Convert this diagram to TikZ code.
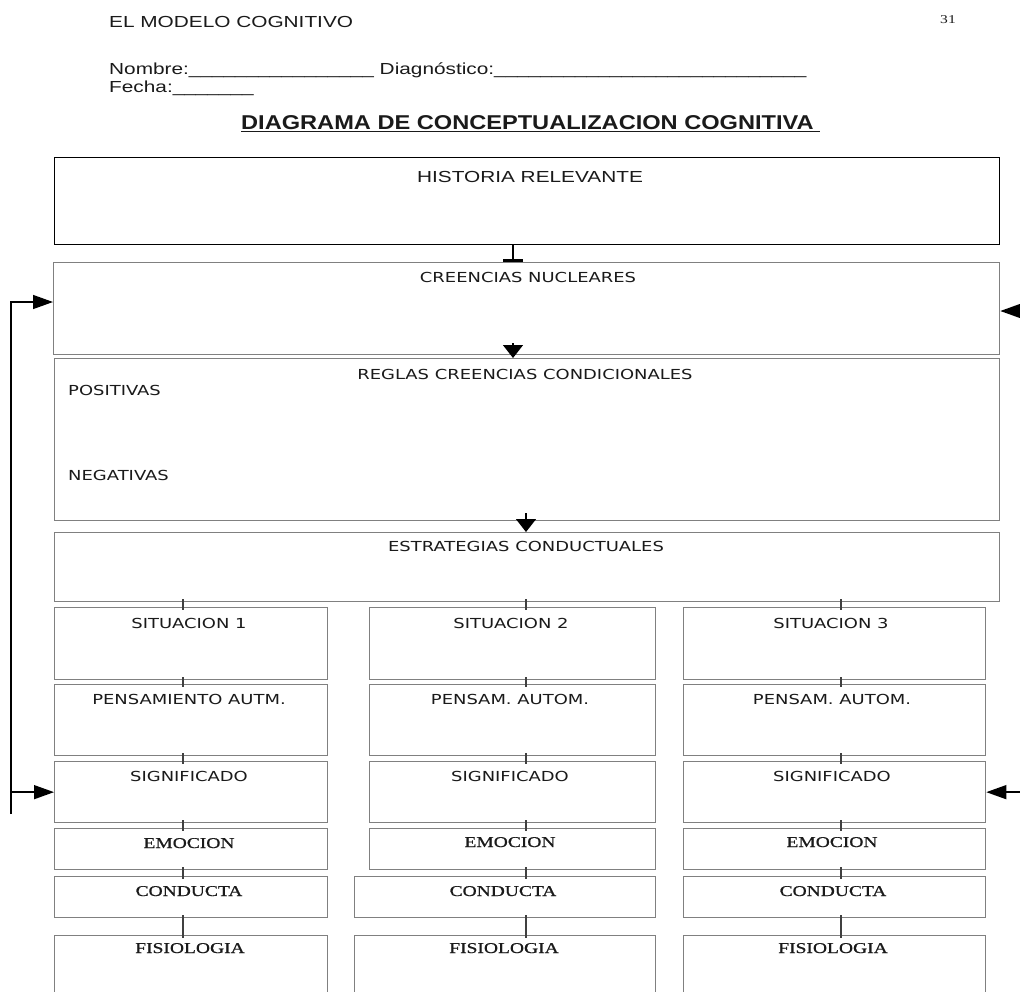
\documentclass[tikz,border=0pt]{standalone}
\usepackage{fontspec}
\setmainfont[FakeStretch=1.3]{Liberation Sans}
\newfontfamily\dvs[FakeStretch=1.3]{DejaVu Sans}
\newfontfamily\srf[FakeStretch=1.3,FakeBold=0.8]{Liberation Serif}
\newfontfamily\pgf[FakeStretch=1.3]{Liberation Serif}
\newfontfamily\ttlf[FakeStretch=1.18]{Liberation Sans}
\usetikzlibrary{arrows.meta,calc}
\definecolor{boxgray}{HTML}{808080}
\definecolor{txt}{HTML}{1A1A1A}
\definecolor{tickc}{HTML}{404040}
\newcommand\mybox[6][box]{\node[#1, minimum width=#5-#3, minimum height=#6-#4] (#2) at (#3,#4) {};}
\newcommand\mytick[3]{\draw[tk] ($(#1.south -| #3)+(0,-3)$) -- ($(#2.north -| #3)+(0,3)$);}
\begin{document}
\begin{tikzpicture}[x=1pt,y=-1pt,
  box/.style={draw=boxgray,line width=1.3pt,rectangle,inner sep=0pt,anchor=north west},
  hbox/.style={box,draw=black},
  conn/.style={draw=black,line width=1.4pt},
  tk/.style={draw=tickc,line width=1.3pt},
  downarr/.style={conn,-{Triangle[width=20pt,length=13pt]}},
  sidearr/.style={conn,-{Triangle[width=14pt,length=20pt]}},
  barend/.style={conn,-{Bar[width=20pt,line width=3pt]}},
  lbl/.style={inner sep=0pt,anchor=base,text=txt},
  sl/.style={lbl,font=\fontsize{16}{19}\selectfont},
  dl/.style={lbl,font=\dvs\fontsize{13.8}{16}\selectfont},
  rl/.style={lbl,font=\srf\fontsize{15}{18}\selectfont}]
\fill[white] (0,0) rectangle (1020,991);
\useasboundingbox (0,0) rectangle (1020,991);
\clip (0,0) rectangle (1020,991);

% header
\node[sl,anchor=base west] (hdr) at (109,27) {EL MODELO COGNITIVO};
\node[lbl,anchor=base west,font=\pgf\fontsize{12}{14}\selectfont] (pg) at (940,23) {31};
\node[sl,anchor=base west] (nom) at (109,74) {Nombre:\_\_\_\_\_\_\_\_\_\_\_\_\_\_\_\_ Diagnóstico:\_\_\_\_\_\_\_\_\_\_\_\_\_\_\_\_\_\_\_\_\_\_\_\_\_\_\_};
\node[sl,anchor=base west] (fec) at (109,92) {Fecha:\_\_\_\_\_\_\_};
\node[lbl,anchor=base west,font=\ttlf\bfseries\fontsize{20}{24}\selectfont] (ttl) at (241,129.5) {\underline{DIAGRAMA DE CONCEPTUALIZACION COGNITIVA\ }};

% main boxes
\mybox[hbox]{hist}{54}{157}{999}{244}
\mybox{cre}{53}{262}{999}{354}
\mybox{reg}{54}{358}{999}{520}
\mybox{est}{54}{532}{999}{601}

% columns
\mybox{sitA}{54}{607}{327}{679}
\mybox{sitB}{369}{607}{655}{679}
\mybox{sitC}{683}{607}{985}{679}
\mybox{penA}{54}{684}{327}{755}
\mybox{penB}{369}{684}{655}{755}
\mybox{penC}{683}{684}{985}{755}
\mybox{sigA}{54}{761}{327}{822}
\mybox{sigB}{369}{761}{655}{822}
\mybox{sigC}{683}{761}{985}{822}
\mybox{emoA}{54}{828}{327}{869}
\mybox{emoB}{369}{828}{655}{869}
\mybox{emoC}{683}{828}{985}{869}
\mybox{conA}{54}{876}{327}{917}
\mybox{conB}{354}{876}{655}{917}
\mybox{conC}{683}{876}{985}{917}
\mybox{fisA}{54}{935}{327}{1000}
\mybox{fisB}{354}{935}{655}{1000}
\mybox{fisC}{683}{935}{985}{1000}

% labels
\node[sl] (lhist) at (530,182) {HISTORIA RELEVANTE};
\node[dl] (lcre) at (528,282) {CREENCIAS NUCLEARES};
\node[dl] (lreg) at (525,379) {REGLAS CREENCIAS CONDICIONALES};
\node[dl,anchor=base west] (lpos) at (68,395) {POSITIVAS};
\node[dl,anchor=base west] (lneg) at (68,480) {NEGATIVAS};
\node[dl] (lest) at (526,551) {ESTRATEGIAS CONDUCTUALES};
\node[dl] (lsitA) at (189,628) {SITUACION 1};
\node[dl] (lsitB) at (511,628) {SITUACION 2};
\node[dl] (lsitC) at (831,628) {SITUACION 3};
\node[dl] (lpenA) at (189,704) {PENSAMIENTO AUTM.};
\node[dl] (lpenB) at (510,704) {PENSAM. AUTOM.};
\node[dl] (lpenC) at (832,704) {PENSAM. AUTOM.};
\node[dl] (lsigA) at (189,781) {SIGNIFICADO};
\node[dl] (lsigB) at (510,781) {SIGNIFICADO};
\node[dl] (lsigC) at (832,781) {SIGNIFICADO};
\node[rl] (lemoA) at (189,848) {EMOCION};
\node[rl] (lemoB) at (510,847) {EMOCION};
\node[rl] (lemoC) at (832,847) {EMOCION};
\node[rl] (lconA) at (189,896) {CONDUCTA};
\node[rl] (lconB) at (503,896) {CONDUCTA};
\node[rl] (lconC) at (833,896) {CONDUCTA};
\node[rl] (lfisA) at (190,953) {FISIOLOGIA};
\node[rl] (lfisB) at (504,953) {FISIOLOGIA};
\node[rl] (lfisC) at (833,953) {FISIOLOGIA};

% connectors main column
\coordinate (mx) at (513,0);
\coordinate (mx2) at (526,0);
\draw[barend] (hist.south -| mx) -- (cre.north -| mx);
\draw[downarr] ($(cre.south -| mx)+(0,-12)$) -- (reg.north -| mx);
\draw[downarr] ($(reg.south -| mx2)+(0,-8)$) -- (est.north -| mx2);

% ticks
\coordinate (tA) at (183,0);
\coordinate (tB) at (526,0);
\coordinate (tC) at (841,0);
\mytick{est}{sitA}{tA}
\mytick{est}{sitB}{tB}
\mytick{est}{sitC}{tC}
\mytick{sitA}{penA}{tA}
\mytick{sitB}{penB}{tB}
\mytick{sitC}{penC}{tC}
\mytick{penA}{sigA}{tA}
\mytick{penB}{sigB}{tB}
\mytick{penC}{sigC}{tC}
\mytick{sigA}{emoA}{tA}
\mytick{sigB}{emoB}{tB}
\mytick{sigC}{emoC}{tC}
\mytick{emoA}{conA}{tA}
\mytick{emoB}{conB}{tB}
\mytick{emoC}{conC}{tC}
\mytick{conA}{fisA}{tA}
\mytick{conB}{fisB}{tB}
\mytick{conC}{fisC}{tC}

% feedback arrows
\coordinate (lbot) at (11,814);
\coordinate (ltop) at (11,302);
\coordinate (rtop) at (1022,311);
\coordinate (rx) at (1022,0);
\draw[sidearr] (lbot) -- (ltop) -- (ltop -| cre.west);
\draw[sidearr] (lbot |- sigA.west) -- (sigA.west);
\draw[sidearr] (rtop) -- (rtop -| cre.east);
\draw[sidearr] (rx |- sigC.east) -- (sigC.east);
\end{tikzpicture}
\end{document}
